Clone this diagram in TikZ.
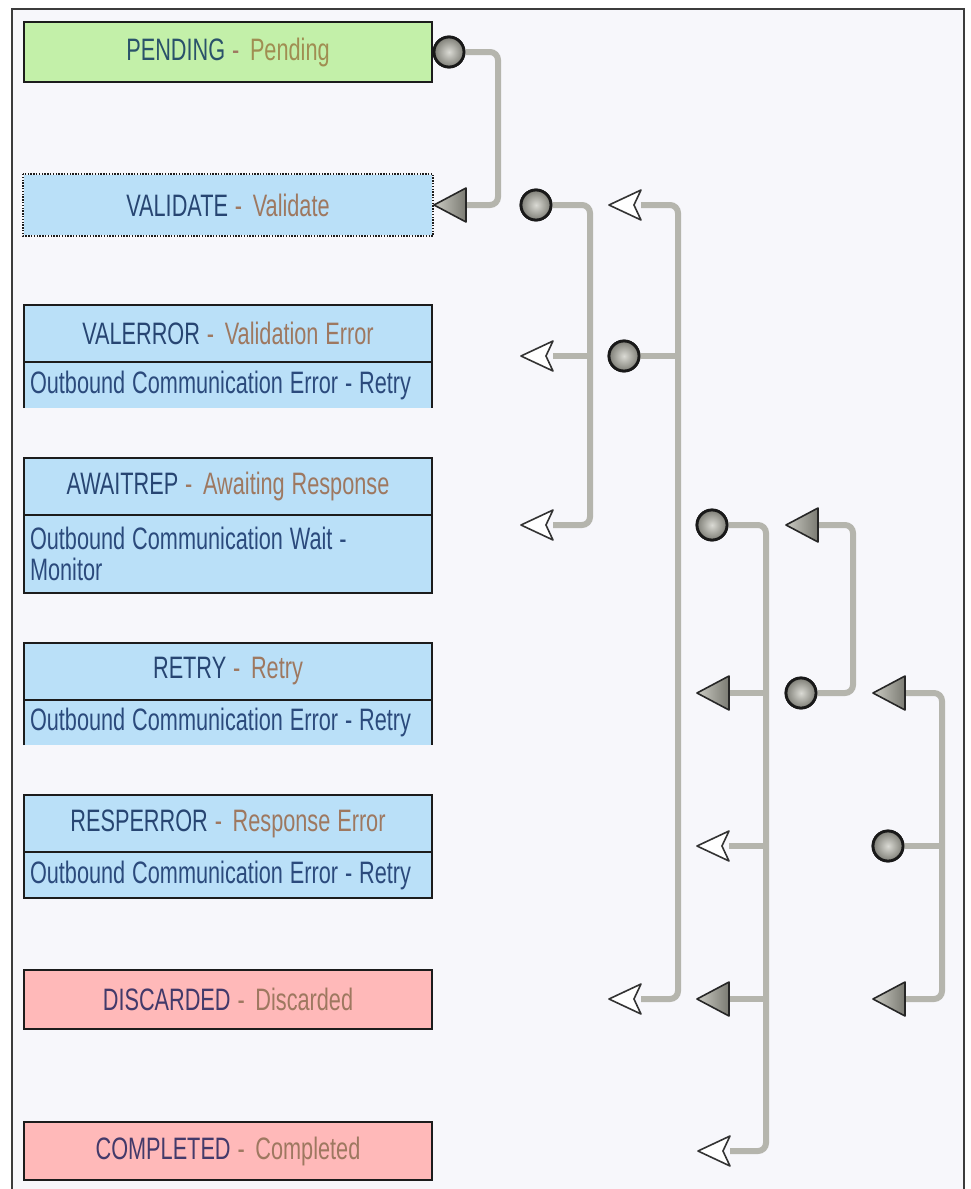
\documentclass[tikz,border=0pt]{standalone}
\usepackage{fontspec}
\setmainfont[FakeStretch=0.70, WordSpace=1.15]{Liberation Sans}
\usetikzlibrary{calc}

\definecolor{panelbg}{HTML}{F7F7FB}
\definecolor{framecol}{HTML}{3C3C3C}
\definecolor{boxline}{HTML}{1C1C1C}
\definecolor{fillgreen}{HTML}{C3F0A9}
\definecolor{fillblue}{HTML}{BAE0F8}
\definecolor{fillpink}{HTML}{FFB9B9}
\definecolor{codeblue}{HTML}{274572}
\definecolor{codeteal}{HTML}{2A526A}
\definecolor{codeplum}{HTML}{433A6A}
\definecolor{descbrown}{HTML}{9E7860}
\definecolor{descolive}{HTML}{A08E52}
\definecolor{bodyblue}{HTML}{2B4A7C}
\definecolor{wire}{HTML}{B5B5AD}
\definecolor{knoblight}{HTML}{DADAD4}
\definecolor{knobdark}{HTML}{7E7E76}
\definecolor{tipdark}{HTML}{7A7A72}
\definecolor{tiplight}{HTML}{CACAC2}

\newcommand{\boxfont}{\fontsize{31}{34}\selectfont}
\newcommand{\naturalspaces}{\spaceskip=0pt\relax\xspaceskip=0pt\relax}
\newcommand{\stateline}[3]{{\color{#1}#2} {\color{descbrown}-\hspace{0.12em} #3}}

\begin{document}
\begin{tikzpicture}[x=1pt,y=-1pt,
  statehead/.style={draw=boxline, line width=2pt, minimum width=408,
    minimum height=#1, inner sep=0, font=\boxfont},
  statebody/.style={minimum width=408, minimum height=#1, inner xsep=6,
    inner ysep=0, text width=396, align=left, font=\boxfont,
    text=bodyblue, fill=fillblue},
  wireline/.style={draw=wire, line width=6pt, rounded corners=8pt},
  knob/.style={circle, minimum size=30, inner sep=0, draw=black!90,
    line width=2.8pt, inner color=knoblight, outer color=knobdark},
  tipslot/.style={minimum width=32, minimum height=34, inner sep=0, outer sep=0},
  solidtip/.style={draw=black!85, line width=1.6pt, left color=tiplight,
    right color=tipdark, line join=round},
  hollowtip/.style={draw=black!80, line width=1.6pt, fill=white, line join=round}]

\useasboundingbox (0,0) rectangle (970,1189);

% panel and its frame
\fill[white] (0,0) rectangle (970,1189);
\fill[panelbg] (12,9) rectangle (964,1189);
\draw[framecol, line width=2pt] (12,1189) -- (12,9) -- (964,9) -- (964,1189);

% ---------- state boxes ----------
\node[statehead=60, fill=fillgreen] (pending) at (228,52)
  {\stateline{codeteal}{PENDING}{{\color{descolive}Pending}}};

\node[statehead=60, fill=fillblue, draw=none] (validate) at (228,205)
  {\stateline{codeblue}{VALIDATE}{Validate}};
\draw[boxline, line width=2pt, dash pattern=on 1.4pt off 1.4pt]
  (validate.north west) rectangle (validate.south east);

% VALERROR (body open at the bottom)
\node[statebody=46] (valerrB) at (228,385)
  {\naturalspaces\mbox{Outbound Communication Error - Retry}};
\draw[boxline, line width=2pt] (valerrB.south west) -- (valerrB.north west)
  (valerrB.north east) -- (valerrB.south east);
\node[statehead=57, fill=fillblue] (valerr) at (228,333.5)
  {\stateline{codeblue}{VALERROR}{Validation Error}};

% AWAITREP
\node[statebody=78, draw=boxline, line width=2pt] (awaitB) at (228,554)
  {\naturalspaces Outbound Communication Wait -\\[-3pt]Monitor};
\node[statehead=57, fill=fillblue] (await) at (228,486.5)
  {\stateline{codeblue}{AWAITREP}{Awaiting Response}};

% RETRY (body open at the bottom)
\node[statebody=45] (retryB) at (228,722.5)
  {\naturalspaces\mbox{Outbound Communication Error - Retry}};
\draw[boxline, line width=2pt] (retryB.south west) -- (retryB.north west)
  (retryB.north east) -- (retryB.south east);
\node[statehead=57, fill=fillblue] (retry) at (228,671.5)
  {\stateline{codeblue}{RETRY}{Retry}};

% RESPERROR
\node[statebody=46, draw=boxline, line width=2pt] (resperrB) at (228,875)
  {\naturalspaces\mbox{Outbound Communication Error - Retry}};
\node[statehead=57, fill=fillblue] (resperr) at (228,823.5)
  {\stateline{codeblue}{RESPERROR}{Response Error}};

\node[statehead=59, fill=fillpink] (discard) at (228,999.5)
  {\stateline{codeplum}{DISCARDED}{Discarded}};
\node[statehead=58, fill=fillpink] (complete) at (228,1151)
  {\stateline{codeplum}{COMPLETED}{Completed}};

% ---------- transition sources (knobs) ----------
\node[knob] (pendC)    at (449,52)  {};
\node[knob] (valC)     at (536,205) {};
\node[knob] (valerrC)  at (624,356) {};
\node[knob] (awaitC)   at (712,525) {};
\node[knob] (retryC)   at (801,693) {};
\node[knob] (resperrC) at (888,846) {};

% ---------- transition targets (tips) ----------
\node[tipslot] (valT1)     at (450,205) {};
\node[tipslot] (valerrT2)  at (537,356) {};
\node[tipslot] (awaitT2)   at (537,525) {};
\node[tipslot] (valT3)     at (625,205) {};
\node[tipslot] (discT3)    at (625,999) {};
\node[tipslot] (retryT4)   at (713,693) {};
\node[tipslot] (resperrT4) at (713,846) {};
\node[tipslot] (discT4)    at (713,999) {};
\node[tipslot] (compT4)    at (714,1151) {};
\node[tipslot] (awaitT5)   at (802,525) {};
\node[tipslot] (retryT6)   at (889,693) {};
\node[tipslot] (discT6)    at (889,999) {};

% bus columns
\coordinate (bus1) at (498,0);
\coordinate (bus2) at (590,0);
\coordinate (bus3) at (678,0);
\coordinate (bus4) at (766,0);
\coordinate (bus5) at (853,0);
\coordinate (bus6) at (942,0);

% ---------- transitions ----------
% PENDING -> VALIDATE
\draw[wireline] (pendC.east) -| (bus1 |- valT1) -- (valT1.east);
% VALIDATE -> VALERROR, AWAITREP
\draw[wireline] (valC.east) -| (bus2 |- awaitT2) -- (awaitT2.east);
\draw[wireline] (valerrT2.east) -- (valerrT2 -| bus2);
% VALERROR -> VALIDATE, DISCARDED
\draw[wireline] (valT3.east) -| (bus3 |- discT3) -- (discT3.east);
\draw[wireline] (valerrC.east) -- (valerrC -| bus3);
% AWAITREP -> RETRY, RESPERROR, DISCARDED, COMPLETED
\draw[wireline] (awaitC.east) -| (bus4 |- compT4) -- (compT4.east);
\draw[wireline] (retryT4.east) -- (retryT4 -| bus4);
\draw[wireline] (resperrT4.east) -- (resperrT4 -| bus4);
\draw[wireline] (discT4.east) -- (discT4 -| bus4);
% RETRY -> AWAITREP
\draw[wireline] (retryC.east) -| (bus5 |- awaitT5) -- (awaitT5.east);
% RESPERROR -> RETRY, DISCARDED
\draw[wireline] (retryT6.east) -| (bus6 |- discT6) -- (discT6.east);
\draw[wireline] (resperrC.east) -- (resperrC -| bus6);

% tip glyphs on top of the wires
\foreach \t in {valT1, retryT4, discT4, awaitT5, retryT6, discT6}
  \shade[solidtip] (\t.west) -- (\t.north east) -- (\t.south east) -- cycle;
\foreach \t in {valerrT2, awaitT2, valT3, discT3, resperrT4, compT4}
  \draw[hollowtip] (\t.west) -- ($(\t.north east)+(0,2)$)
    -- ($(\t.west)!0.78!(\t.east)$) -- ($(\t.south east)+(0,-2)$) -- cycle;

% knobs redrawn above wire ends
\foreach \k in {pendC, valC, valerrC, awaitC, retryC, resperrC}
  \node[knob] at (\k) {};
\end{tikzpicture}
\end{document}
